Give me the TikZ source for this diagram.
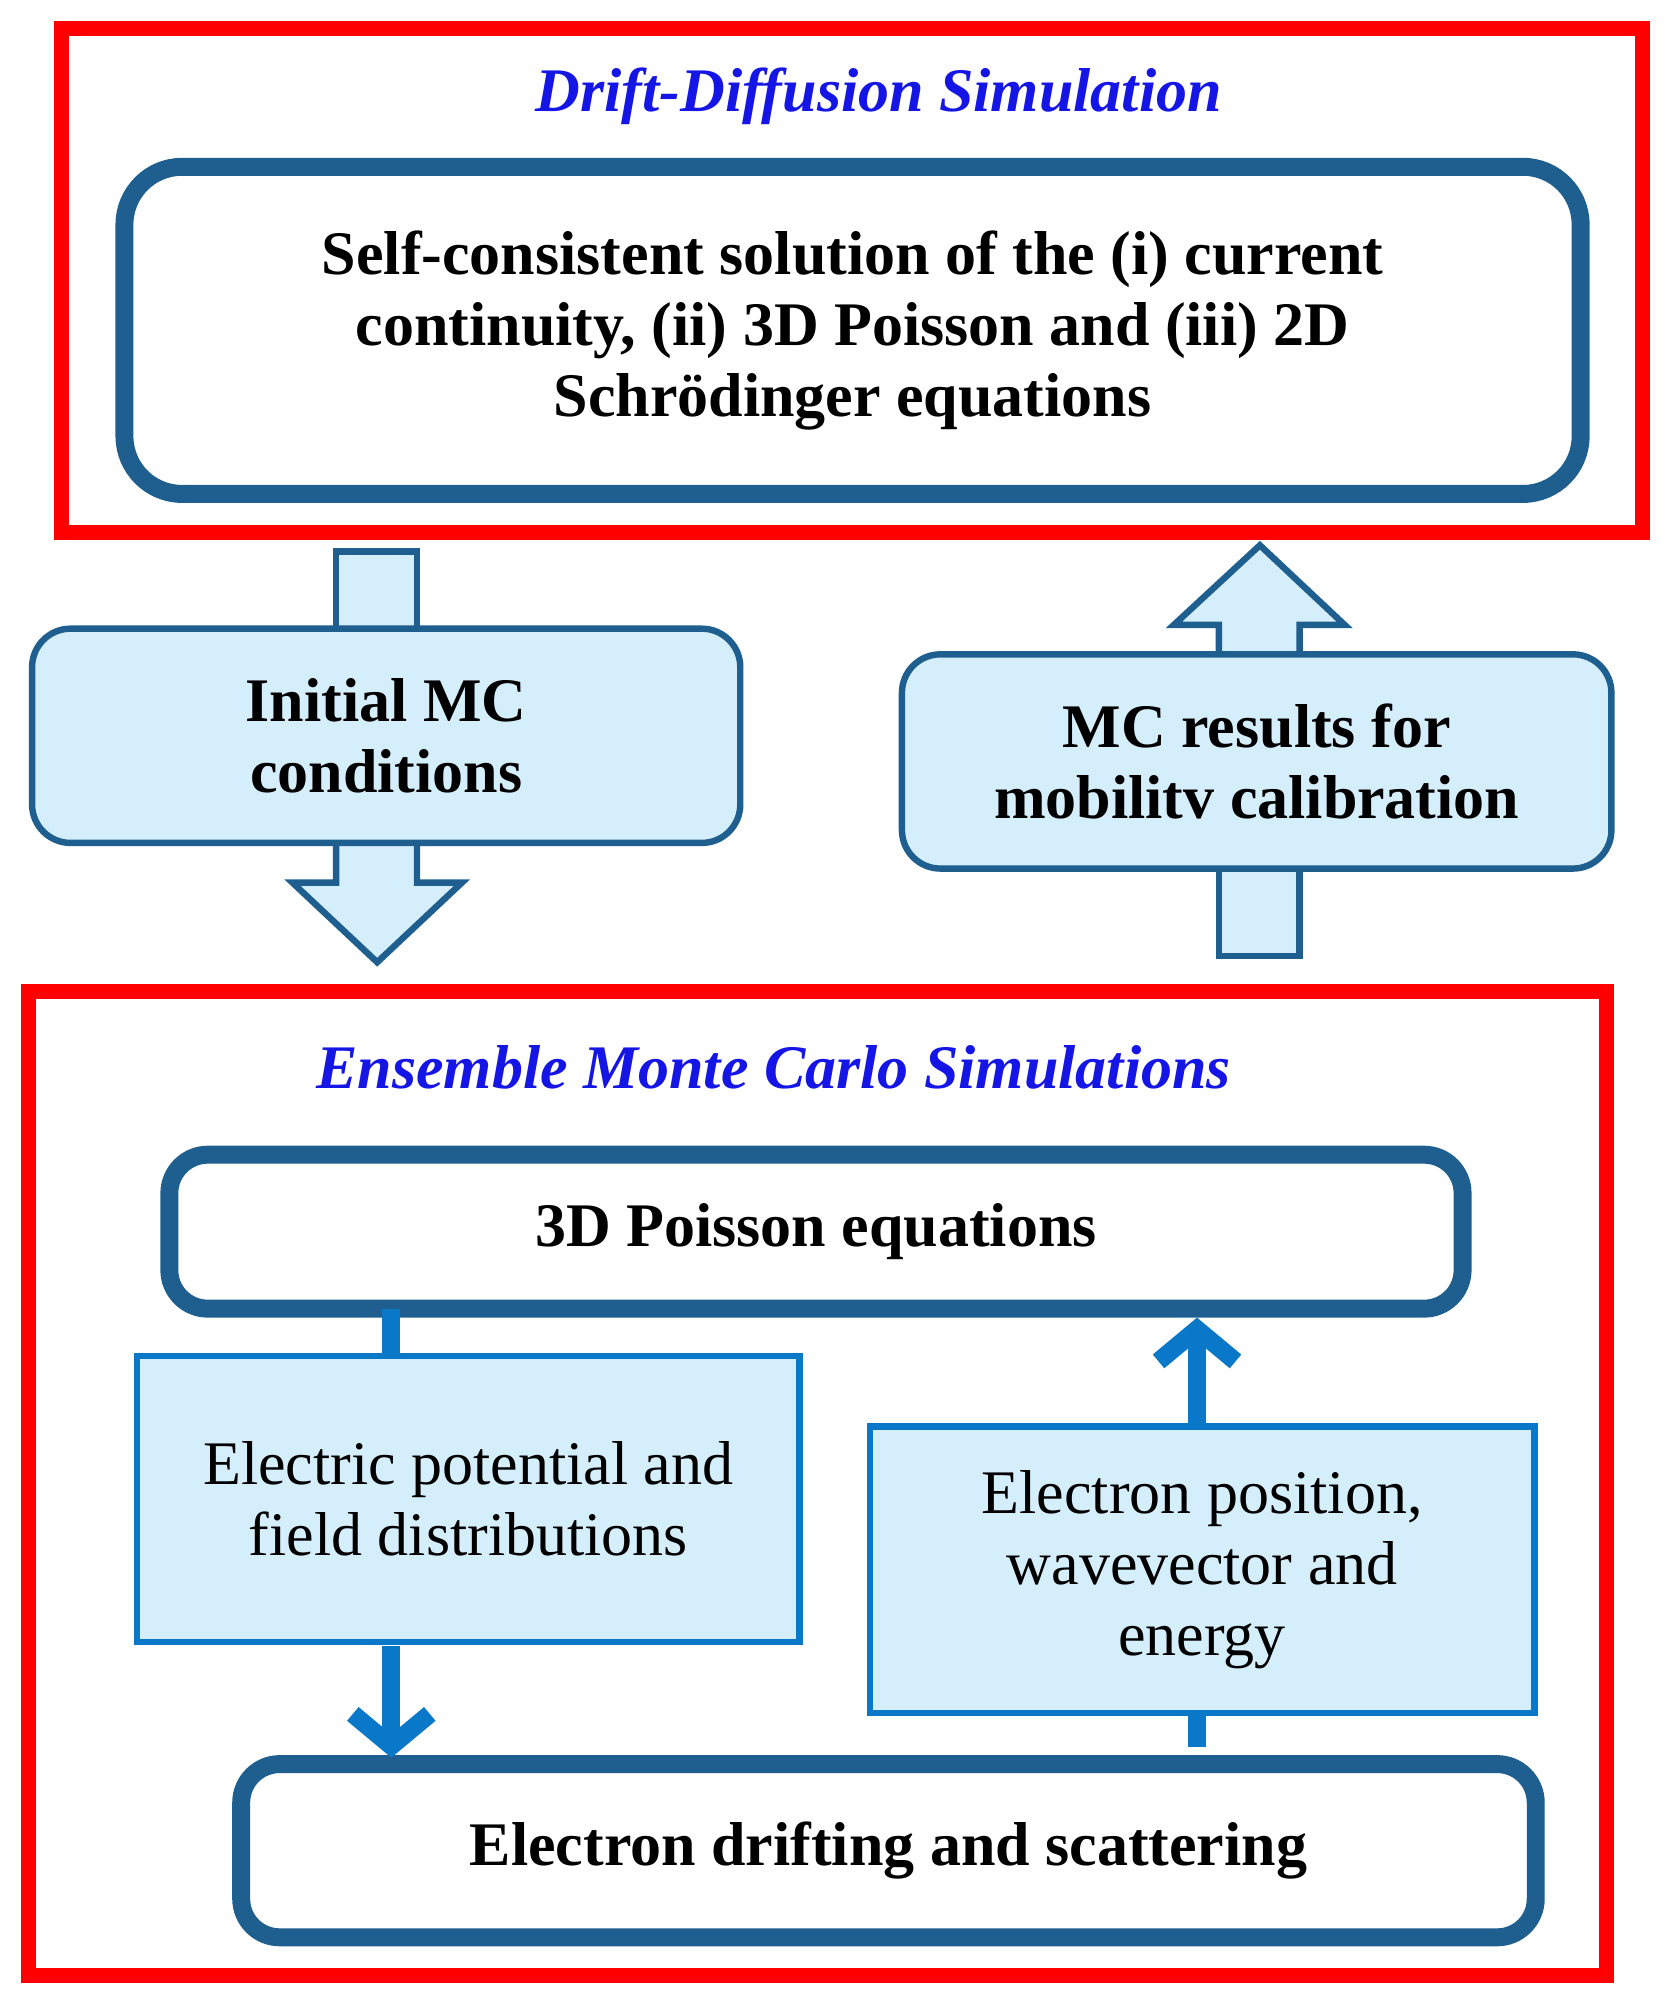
\documentclass[tikz,border=0pt]{standalone}
\usepackage{fontspec}
\setmainfont{Liberation Serif}
\usetikzlibrary{arrows.meta}
\definecolor{dblue}{HTML}{1F5F8F}
\definecolor{mblue}{HTML}{0A78C8}
\definecolor{lblue}{HTML}{D5EEFB}
\definecolor{ttl}{HTML}{1515E6}
\begin{document}
\begin{tikzpicture}[x=0.02cm,y=-0.02cm,
 red/.style={draw=red,line width=0.24cm},
 rbox/.style={draw=dblue,line width=0.28cm,rounded corners=0.9cm,fill=white,align=center,font=\bfseries\fontsize{27.5}{31.5}\selectfont},
 sbox/.style={draw=dblue,line width=0.1cm,rounded corners=0.6cm,fill=lblue,align=center,font=\bfseries\fontsize{27.5}{31.5}\selectfont},
 pbox/.style={draw=mblue,line width=0.1cm,fill=lblue,align=center,font=\fontsize{27.5}{31.5}\selectfont},
 ttlf/.style={text=ttl,font=\bfseries\itshape\fontsize{27.5}{30}\selectfont},
 barrow/.style={draw=dblue,line width=0.1cm,fill=lblue},
 tarrow/.style={draw=mblue,line width=0.28cm,-{Straight Barb[length=0.5cm,width=1.2cm,line width=0.28cm]}}]
\useasboundingbox (0,0) rectangle (1300,1562);
\node[red,minimum width=1232*0.02cm,minimum height=393*0.02cm] (dd) at (664,218.5) {};
\node[ttlf] (ddt) at (685,75) {Drift-Diffusion Simulation};
\node[rbox,minimum width=1135*0.02cm,minimum height=255*0.02cm] (sc) at (664.5,257.5)
 {Self-consistent solution of the (i) current\\continuity, (ii) 3D Poisson and (iii) 2D\\Schrödinger equations};
% left block arrow
\draw[barrow] (262,430) -- (325,430) -- (325,500) -- (262,500) -- cycle;
\draw[barrow] (262,640) -- (325,640) -- (325,688) -- (360,688) -- (294,750) -- (228,688) -- (262,688) -- cycle;
\node[sbox,minimum width=552*0.02cm,minimum height=167*0.02cm] (imc) at (301,573.5) {Initial MC\\conditions};
% right block arrow
\draw[barrow] (950,660) -- (1013,660) -- (1013,745) -- (950,745) -- cycle;
\draw[barrow] (950,525) -- (950,487) -- (915,487) -- (982,425) -- (1048,487) -- (1013,487) -- (1013,525) -- cycle;
\node[sbox,minimum width=553*0.02cm,minimum height=167*0.02cm] (mcr) at (979.5,593.5) {MC results for\\mobilitv calibration};
% bottom
\node[red,minimum width=1230*0.02cm,minimum height=767*0.02cm] (em) at (637,1156.5) {};
\node[ttlf] (emt) at (603,832) {Ensemble Monte Carlo Simulations};
\node[rbox,rounded corners=0.6cm,minimum width=1008*0.02cm,minimum height=120*0.02cm] (p3) at (636,960) {3D Poisson equations};
\node[rbox,rounded corners=0.6cm,minimum width=1009*0.02cm,minimum height=135*0.02cm] (eds) at (692.5,1442.5) {Electron drifting and scattering};
\coordinate (s1) at (305,1020);
\coordinate (s2) at (305,1062);
\draw[draw=mblue,line width=0.28cm] (s1) -- (s2);
\node[pbox,minimum width=516*0.02cm,minimum height=223*0.02cm] (ep) at (365,1168.5) {Electric potential and\\field distributions};
\node[pbox,minimum width=518*0.02cm,minimum height=223*0.02cm] (epw) at (937,1223.5) {Electron position,\\wavevector and\\energy};
\coordinate (a1) at (305,1283);
\coordinate (a2) at (305,1370);
\draw[tarrow] (a1) -- (a2);
\coordinate (b1) at (933,1110);
\coordinate (b2) at (933,1027);
\draw[tarrow] (b1) -- (b2);
\coordinate (c1) at (933,1337);
\coordinate (c2) at (933,1362);
\draw[draw=mblue,line width=0.28cm] (c1) -- (c2);
\end{tikzpicture}
\end{document}
